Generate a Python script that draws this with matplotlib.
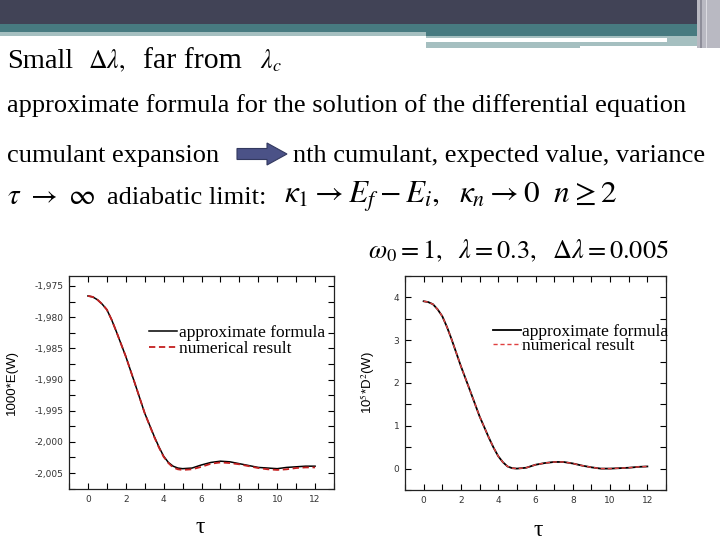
import numpy as np
import matplotlib
matplotlib.use("Agg")
import matplotlib.pyplot as plt
from matplotlib.patches import Rectangle, FancyArrow
from matplotlib.ticker import MultipleLocator, FuncFormatter

plt.rcParams["mathtext.fontset"] = "stix"

# Данные
tau = [0, 0.25, 0.5, 0.75, 1, 1.25, 1.5, 2, 2.5, 3, 3.5, 3.75, 4, 4.25, 4.5, 4.75,
       5, 5.5, 6, 6.5, 7, 7.5, 8, 8.5, 9, 9.5, 10, 10.5, 11, 11.5, 12]

E_approx = [-1.9766, -1.97675, -1.9772, -1.9779, -1.9788, -1.9804, -1.9823, -1.9863,
            -1.9908, -1.9954, -1.9991, -2.0008, -2.0023, -2.0033, -2.0039, -2.0042,
            -2.0043, -2.0042, -2.0037, -2.0033, -2.0031, -2.0032, -2.0035, -2.0038,
            -2.0041, -2.0042, -2.0043, -2.0041, -2.0040, -2.0039, -2.0039]
E_num = [-1.9766, -1.97675, -1.9772, -1.9779, -1.9788, -1.9804, -1.9823, -1.9863,
         -1.9908, -1.9954, -1.9992, -2.0009, -2.0024, -2.0034, -2.0041, -2.0044,
         -2.0045, -2.0044, -2.0040, -2.0035, -2.0033, -2.0034, -2.0036, -2.0039,
         -2.0042, -2.0044, -2.0045, -2.0044, -2.0042, -2.0041, -2.0041]

D_approx = [3.91, 3.89, 3.84, 3.72, 3.56, 3.31, 3.02, 2.39, 1.81, 1.22, 0.72, 0.49,
            0.29, 0.15, 0.05, 0.01, 0.0, 0.02, 0.09, 0.13, 0.155, 0.155, 0.12, 0.07,
            0.03, 0.0, 0.0, 0.01, 0.02, 0.04, 0.05]
D_num = [3.91, 3.89, 3.84, 3.72, 3.56, 3.31, 3.02, 2.39, 1.81, 1.22, 0.72, 0.49,
         0.29, 0.15, 0.05, 0.01, 0.0, 0.02, 0.09, 0.13, 0.155, 0.155, 0.12, 0.07,
         0.03, 0.0, 0.0, 0.01, 0.02, 0.04, 0.05]

W, H = 720, 540
fig = plt.figure(figsize=(7.2, 5.4), dpi=100)


def rect(x, y, w, h, color):
    # x, y в пикселях от верхнего левого угла
    fig.add_artist(Rectangle((x / W, 1 - (y + h) / H), w / W, h / H,
                             transform=fig.transFigure, color=color, lw=0))


# Шапка слайда
rect(0, 0, 720, 24, "#414356")
rect(0, 24, 720, 8, "#477a80")
rect(0, 32, 426, 4, "#a5bfc0")
rect(426, 32, 294, 4, "#477a80")
rect(426, 36, 274, 2, "#a5bfc0")
rect(667, 38, 33, 8, "#a5bfc0")
rect(426, 42, 154, 6, "#a5bfc0")
rect(580, 42, 120, 4, "#a5bfc0")
rect(697, 0, 23, 48, "#b9b9c2")
rect(700, 0, 2, 48, "#8e8e9a")
rect(706, 0, 1, 48, "#dcdce2")

serif = "Liberation Serif"


def ftext(x, y, s, size=19, **kw):
    fig.text(x / W, 1 - y / H, s, fontsize=size, family=serif,
             va="baseline", ha="left", **kw)


ftext(7, 68, "Small", size=20.5)
ftext(88, 68, r"$\Delta\lambda,$", size=18.5)
ftext(143, 68, "far from", size=21.5)
ftext(260, 68, r"$\lambda_c$", size=18.5)
ftext(7, 112, "approximate formula for the solution of the differential equation")
ftext(7, 162, "cumulant expansion")
ftext(293, 162, "nth cumulant, expected value, variance")
ftext(7, 204, r"$\tau\ \rightarrow\ \infty$", size=21)
ftext(107, 204, "adiabatic limit:")
ftext(284, 204, r"$\kappa_1 \rightarrow E_f - E_i,\ \ \kappa_n \rightarrow 0\ \ n \geq 2$",
      size=22.5)
ftext(368, 258, r"$\omega_0 = 1,\ \ \lambda = 0.3,\ \ \Delta\lambda = 0.005$", size=19)

# Стрелка
fig.add_artist(FancyArrow(237 / W, 1 - 154 / H, 30 / W, 0, width=11 / H,
                          head_width=22 / H, head_length=20 / W,
                          length_includes_head=False, transform=fig.transFigure,
                          facecolor="#4b5287", edgecolor="#33395f", lw=0.8))


def style_axes(ax):
    ax.tick_params(which="both", direction="in", top=True, right=True,
                   labelsize=6.5, labelcolor="#333333", width=0.8, pad=4)
    ax.tick_params(which="major", length=4)
    ax.tick_params(which="minor", length=4)
    for s in ax.spines.values():
        s.set_linewidth(0.9)
        s.set_color("#222222")
    ax.xaxis.set_major_locator(MultipleLocator(2))
    ax.xaxis.set_minor_locator(MultipleLocator(1))
    ax.set_xlim(-1, 13)


# Левый график: 1000*E(W)
ax1 = fig.add_axes([69 / W, 1 - 489 / H, 265 / W, 213 / H])
ax1.plot(tau, E_approx, color="black", lw=1.1, label="approximate formula")
ax1.plot(tau, E_num, color="#c42020", lw=1.3, ls=(0, (3.5, 2)), label="numerical result")
ax1.set_ylim(-2.00756, -1.9734)
ax1.yaxis.set_major_locator(MultipleLocator(0.005))
ax1.yaxis.set_minor_locator(MultipleLocator(0.0025))
ax1.yaxis.set_major_formatter(FuncFormatter(lambda v, p: f"{v:.3f}".replace(".", ",")))
style_axes(ax1)
ax1.set_ylabel("1000*E(W)", fontsize=9.5, family="Liberation Sans")
ax1.yaxis.set_label_coords(-0.192, 0.5)
ax1.set_xlabel("τ", fontsize=17, family=serif)
ax1.xaxis.set_label_coords(0.494, -0.13)
ax1.legend(loc="upper left", bbox_to_anchor=(0.302, 0.772), frameon=False,
           prop={"family": serif, "size": 12.5}, handlelength=1.6,
           handletextpad=0.1, labelspacing=0.0, borderpad=0, borderaxespad=0)

# Правый график: 10^5*D^2(W)
ax2 = fig.add_axes([405 / W, 1 - 490 / H, 261 / W, 214 / H])
ax2.plot(tau, D_approx, color="black", lw=1.3, label="approximate formula")
ax2.plot(tau, D_num, color="#e04040", lw=1.0, ls=(0, (3, 2)), label="numerical result")
ax2.set_ylim(-0.5, 4.5)
ax2.yaxis.set_major_locator(MultipleLocator(1))
ax2.yaxis.set_minor_locator(MultipleLocator(0.5))
style_axes(ax2)
ax2.set_ylabel(r"10$^5$*D$^2$(W)", fontsize=9.5, family="Liberation Sans")
ax2.yaxis.set_label_coords(-0.107, 0.5)
ax2.set_xlabel("τ", fontsize=17, family=serif)
ax2.xaxis.set_label_coords(0.51, -0.14)
ax2.legend(loc="upper left", bbox_to_anchor=(0.337, 0.778), frameon=False,
           prop={"family": serif, "size": 12.5}, handlelength=1.6,
           handletextpad=0.1, labelspacing=-0.1, borderpad=0, borderaxespad=0)

fig.savefig("out.png", dpi=100)
